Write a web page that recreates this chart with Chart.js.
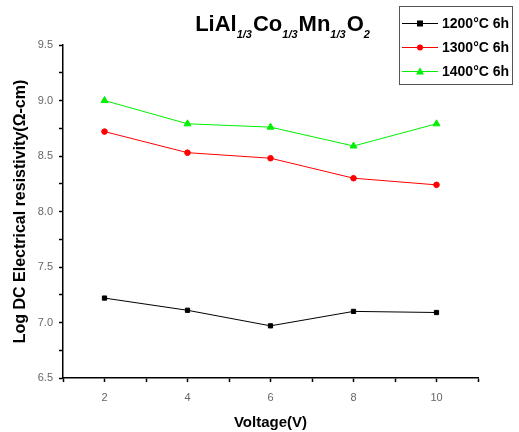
<!DOCTYPE html>
<html>
<head>
<meta charset="utf-8">
<script src="https://cdn.jsdelivr.net/npm/chart.js@4/dist/chart.umd.min.js"></script>
<style>
  html, body { margin: 0; padding: 0; background: #fff; }
  #wrap { position: relative; width: 519px; height: 432px; }
</style>
</head>
<body>
<div id="wrap"><canvas id="c" width="519" height="432"></canvas></div>
<script>
// ── data ──────────────────────────────────────────────────
const voltage = [2, 4, 6, 8, 10];
const r1200 = [7.22, 7.11, 6.97, 7.10, 7.09];
const r1300 = [8.72, 8.53, 8.48, 8.30, 8.24];
const r1400 = [9.00, 8.79, 8.76, 8.59, 8.79];
const seriesNames = ['1200°C 6h', '1300°C 6h', '1400°C 6h'];
const yTickLabels = ['6.5', '7.0', '7.5', '8.0', '8.5', '9.0', '9.5'];
const xTickLabels = ['2', '4', '6', '8', '10'];

const FONT = '"Liberation Sans", Arial, sans-serif';

const toPts = arr => arr.map((v, i) => ({ x: voltage[i], y: v }));

// title with subscripts + boxed legend (line + marker), drawn on the canvas
const decorations = {
  id: 'decorations',
  afterDraw(chart) {
    const ctx = chart.ctx;
    ctx.save();
    // title
    const parts = [['LiAl', 0], ['1/3', 1], ['Co', 0], ['1/3', 1], ['Mn', 0], ['1/3', 1], ['O', 0], ['2', 1]];
    const bigFont = 'bold 22px ' + FONT, smallFont = 'italic bold 11px ' + FONT;
    let total = 0;
    parts.forEach(([t, s]) => { ctx.font = s ? smallFont : bigFont; total += ctx.measureText(t).width + (s ? 1 : 0); });
    let x = 283 - total / 2;
    const base = 31;
    ctx.fillStyle = '#000';
    ctx.textBaseline = 'alphabetic';
    ctx.textAlign = 'left';
    parts.forEach(([t, s]) => {
      ctx.font = s ? smallFont : bigFont;
      ctx.fillText(t, x, s ? base + 7 : base);
      x += ctx.measureText(t).width + (s ? 1 : 0);
    });

    // legend box
    ctx.strokeStyle = '#555';
    ctx.lineWidth = 1;
    ctx.strokeRect(399.5, 6.5, 113, 78);
    const rowsY = [23, 47, 71];
    chart.data.datasets.forEach((ds, i) => {
      const y = rowsY[i];
      ctx.strokeStyle = ds.borderColor;
      ctx.lineWidth = 1;
      ctx.beginPath(); ctx.moveTo(402, y + 0.5); ctx.lineTo(438, y + 0.5); ctx.stroke();
      ctx.fillStyle = ds.pointBackgroundColor;
      if (ds.pointStyle === 'rect') {
        ctx.fillRect(417, y - 2.5, 6, 6);
      } else if (ds.pointStyle === 'circle') {
        ctx.beginPath(); ctx.arc(420, y + 0.5, 3, 0, Math.PI * 2); ctx.fill();
      } else {
        ctx.beginPath(); ctx.moveTo(420, y - 3.5); ctx.lineTo(424, y + 3.5); ctx.lineTo(416, y + 3.5); ctx.closePath(); ctx.fill();
      }
      ctx.fillStyle = '#000';
      ctx.font = 'bold 14px ' + FONT;
      ctx.textBaseline = 'middle';
      ctx.fillText(ds.label, 442, y + 1);
    });
    ctx.restore();
  }
};

new Chart(document.getElementById('c'), {
  type: 'line',
  data: {
    datasets: [
      { label: seriesNames[0], data: toPts(r1200), borderColor: '#000', pointBackgroundColor: '#000',
        pointBorderColor: '#000', pointStyle: 'rect', pointRadius: 3, borderWidth: 1 },
      { label: seriesNames[1], data: toPts(r1300), borderColor: '#ff0000', pointBackgroundColor: '#ff0000',
        pointBorderColor: '#ff0000', pointStyle: 'circle', pointRadius: 2.8, borderWidth: 1 },
      { label: seriesNames[2], data: toPts(r1400), borderColor: '#00f000', pointBackgroundColor: '#00f000',
        pointBorderColor: '#00f000', pointStyle: 'triangle', pointRadius: 4, borderWidth: 1 }
    ]
  },
  options: {
    responsive: false,
    animation: false,
    layout: { padding: { top: 45, right: 41, left: 0, bottom: 0 } },
    plugins: { legend: { display: false }, tooltip: { enabled: false }, title: { display: false } },
    scales: {
      x: {
        type: 'linear', min: 1, max: 11,
        afterFit: s => { s.height = 54; },
        grid: { drawOnChartArea: false, drawTicks: true, tickLength: 4, color: '#000', tickWidth: 1.5 },
        border: { display: true, color: '#000', width: 1.5 },
        ticks: {
          stepSize: 1, autoSkip: false, maxRotation: 0, padding: 9,
          color: '#666', font: { family: FONT, size: 11 },
          callback: v => xTickLabels.includes(String(v)) ? String(v) : ''
        },
        title: { display: true, text: 'Voltage(V)', color: '#000',
          font: { family: FONT, size: 15, weight: 'bold' }, padding: { top: 4, bottom: 0 } }
      },
      y: {
        min: 6.5, max: 9.5,
        afterFit: s => { s.width = 63; },
        grid: { drawOnChartArea: false, drawTicks: true, tickLength: 4, color: '#000', tickWidth: 1.5 },
        border: { display: true, color: '#000', width: 1.5 },
        ticks: {
          stepSize: 0.25, autoSkip: false, padding: 6,
          color: '#666', font: { family: FONT, size: 11 },
          callback: v => { const t = v.toFixed(1); return (Math.abs(v * 2 - Math.round(v * 2)) < 1e-6 && yTickLabels.includes(t)) ? t : ''; }
        },
        title: { display: true, text: 'Log DC Electrical resistivity(Ω-cm)', color: '#000',
          font: { family: FONT, size: 16, weight: 'bold' }, padding: { top: 11, bottom: 0 } }
      }
    }
  },
  plugins: [decorations]
});
</script>
</body>
</html>
